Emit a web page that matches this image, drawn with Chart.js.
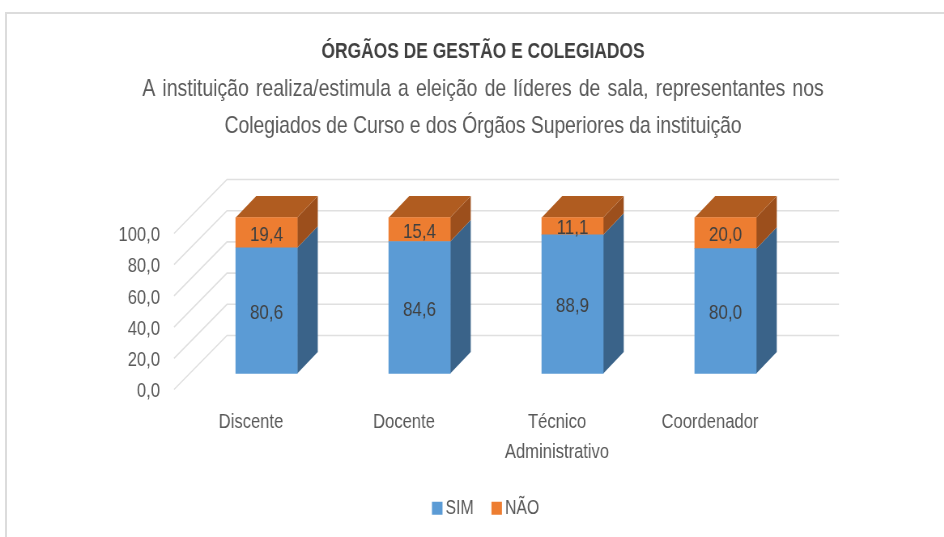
<!DOCTYPE html>
<html lang="pt">
<head>
<meta charset="utf-8">
<style>
html,body{margin:0;padding:0;background:#fff;width:944px;height:537px;overflow:hidden}
#frame{position:absolute;left:5px;top:12px;width:1000px;height:600px;border:2px solid #dcdcdc;box-sizing:border-box}
#wrap{position:absolute;left:0;top:0;width:1193px;height:537px;transform-origin:0 0;transform:scaleX(0.80972)}
</style>
<script src="https://cdn.jsdelivr.net/npm/chart.js@4"></script>
</head>
<body>
<div id="frame"></div>
<div id="wrap"><canvas id="c" width="1193" height="537"></canvas></div>
<script>
const categories = ["Discente", "Docente", ["Técnico", "Administrativo"], "Coordenador"];
const simValues = [80.6, 84.6, 88.9, 80.0];
const naoValues = [19.4, 15.4, 11.1, 20.0];
const titleText = "ÓRGÃOS DE GESTÃO E COLEGIADOS";
const subtitleLines = [
  "A instituição realiza/estimula a eleição de líderes de sala, representantes nos",
  "Colegiados de Curso e dos Órgãos Superiores da instituição"
];
const FONT = '"Liberation Sans",sans-serif';
const K = 0.80972; // horizontal squeeze of the whole canvas, gives the condensed look
const fmt = v => Number(v).toFixed(1).replace('.', ',');

const DX = 20.5 / K, DY = 21.5;
const sideColors = ['#3a6389', '#9c4f1c'];
const topColors = ['#3a6389', '#b05c20'];

function poly(ctx, pts, fill) {
  ctx.beginPath();
  pts.forEach((p, i) => i ? ctx.lineTo(p[0], p[1]) : ctx.moveTo(p[0], p[1]));
  ctx.closePath();
  ctx.fillStyle = fill;
  ctx.fill();
}

const wall3d = {
  id: 'wall3d',
  afterLayout(chart) {
    chart.legend.left += 5 / K;
    chart.legend.right += 5 / K;
  },
  beforeDatasetsDraw(chart) {
    const ctx = chart.ctx, y = chart.scales.y;
    ctx.save();
    ctx.strokeStyle = '#e0e0e0';
    ctx.lineWidth = 1.6;
    y.ticks.forEach(t => {
      const p = y.getPixelForValue(t.value);
      ctx.beginPath();
      ctx.moveTo(174 / K, p + 16);
      ctx.lineTo(227 / K, p - 38);
      ctx.lineTo(839 / K, p - 38);
      ctx.stroke();
    });
    chart.data.datasets.forEach((ds, i) => {
      chart.getDatasetMeta(i).data.forEach(b => {
        const r = b.x + b.width / 2, l = b.x - b.width / 2;
        poly(ctx, [[r, b.y], [r + DX, b.y - DY], [r + DX, b.base - DY], [r, b.base]], sideColors[i]);
        if (i === chart.data.datasets.length - 1) {
          poly(ctx, [[l, b.y], [l + DX, b.y - DY], [r + DX, b.y - DY], [r, b.y]], topColors[i]);
        }
      });
    });
    ctx.restore();
  },
  afterDatasetsDraw(chart) {
    const ctx = chart.ctx;
    ctx.save();
    ctx.font = '21px ' + FONT;
    ctx.fillStyle = '#404040';
    ctx.textAlign = 'center';
    ctx.textBaseline = 'middle';
    chart.data.datasets.forEach((ds, i) => {
      chart.getDatasetMeta(i).data.forEach((b, j) => {
        ctx.fillText(fmt(ds.data[j]), b.x, (b.y + b.base) / 2 + 2.5);
      });
    });
    // the two subtitle lines, each with its own spacing as in the reference
    ctx.font = '24px ' + FONT;
    ctx.fillStyle = '#595959';
    ctx.wordSpacing = '2.1px';
    ctx.letterSpacing = '0px';
    ctx.fillText(subtitleLines[0], 483 / K, 89);
    ctx.wordSpacing = '0px';
    ctx.letterSpacing = '-0.1px';
    ctx.fillText(subtitleLines[1], 483 / K, 126);
    ctx.letterSpacing = '0px';
    ctx.restore();
  }
};

new Chart(document.getElementById('c'), {
  type: 'bar',
  plugins: [wall3d],
  data: {
    labels: categories,
    datasets: [
      { label: 'SIM', data: simValues, backgroundColor: '#5b9bd5', barThickness: 61.5 / K, clip: false },
      { label: 'NÃO', data: naoValues, backgroundColor: '#ed7d31', barThickness: 61.5 / K, clip: false }
    ]
  },
  options: {
    responsive: false,
    animation: false,
    layout: { padding: { left: 10 / K, right: 1193 - 956 / K, top: 34, bottom: 9 } },
    scales: {
      x: {
        stacked: true,
        grid: { display: false, drawTicks: false },
        border: { display: false },
        ticks: {
          padding: 33.5,
          labelOffset: -15.5 / K,
          maxRotation: 0,
          autoSkip: false,
          color: '#595959',
          font: { family: FONT, size: 20.5, lineHeight: 30 / 20.5 }
        },
        afterFit(s) { s.height = 97; }
      },
      y: {
        stacked: true,
        min: 0, max: 100,
        grid: { display: false, drawTicks: false },
        border: { display: false },
        ticks: {
          stepSize: 20,
          padding: 30 / K,
          labelOffset: 18,
          color: '#595959',
          font: { family: FONT, size: 20.5 },
          callback: v => fmt(v)
        },
        afterFit(s) { s.width = 180 / K; }
      },
      // empty axis on the right: reserves the space beyond the back wall
      rightGap: {
        type: 'linear',
        position: 'right',
        grid: { display: false, drawTicks: false },
        border: { display: false },
        ticks: { display: false },
        afterFit(s) { s.width = 154 / K; }
      }
    },
    plugins: {
      tooltip: { enabled: false },
      title: {
        display: true,
        text: titleText,
        color: '#404040',
        font: { family: FONT, size: 21.5, weight: 'bold', lineHeight: 37 / 21.5 },
        padding: { top: 0, bottom: 146.5 }
      },
      legend: {
        position: 'bottom',
        labels: {
          usePointStyle: true,
          pointStyle: 'rect',
          boxWidth: 1,
          boxHeight: 13,
          padding: 28,
          color: '#595959',
          font: { family: FONT, size: 19.5 }
        }
      }
    },
    datasets: { bar: { categoryPercentage: 1, barPercentage: 1 } }
  }
});
</script>
</body>
</html>
